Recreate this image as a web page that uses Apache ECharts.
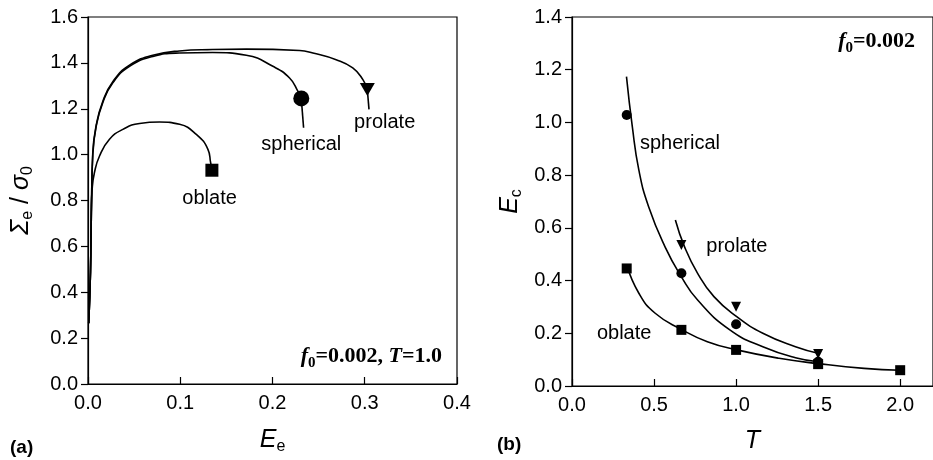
<!DOCTYPE html>
<html>
<head>
<meta charset="utf-8">
<script src="https://cdn.jsdelivr.net/npm/echarts@6/dist/echarts.min.js"></script>
<style>
html,body{margin:0;padding:0;background:#fff;}
#chart{width:933px;height:460px;}
</style>
</head>
<body>
<div id="chart"></div>
<script>
// ---------- Panel (a): Σe/σ0 vs Ee ----------
const aXTicks = [0.0, 0.1, 0.2, 0.3, 0.4];
const aYTicks = [0.0, 0.2, 0.4, 0.6, 0.8, 1.0, 1.2, 1.4, 1.6];
const aSphericalCurve = [[0.0008,0.265],[0.0027,0.489],[0.0038,0.778],[0.0052,1.0],[0.0089,1.124],[0.016,1.226],[0.0269,1.313],[0.045,1.385],[0.0703,1.428],[0.099,1.443],[0.135,1.445],[0.1716,1.433],[0.2004,1.385],[0.2185,1.334],[0.2276,1.276],[0.2312,1.245]];
const aSphericalDrop = [[0.2312,1.245],[0.2337,1.117]];
const aProlateCurve = [[0.0008,0.265],[0.0027,0.489],[0.0038,0.778],[0.0052,1.01],[0.0089,1.128],[0.016,1.232],[0.0269,1.318],[0.045,1.39],[0.0703,1.433],[0.099,1.452],[0.135,1.458],[0.1716,1.46],[0.2294,1.454],[0.2438,1.443],[0.269,1.414],[0.287,1.378],[0.298,1.327],[0.3028,1.284]];
const aProlateDrop = [[0.3028,1.284],[0.3046,1.197]];
const aOblateCurve = [[0.0008,0.265],[0.0027,0.489],[0.0035,0.75],[0.0045,0.85],[0.007,0.922],[0.0125,0.994],[0.0233,1.067],[0.0378,1.110],[0.0559,1.136],[0.0776,1.142],[0.0993,1.132],[0.1174,1.088],[0.130,1.023],[0.1329,0.966],[0.1343,0.934]];
const aSphericalEnd = [[0.2312,1.245]];
const aProlateEnd = [[0.3028,1.284]];
const aOblateEnd = [[0.1343,0.932]];
const aLabels = [
  {name:'spherical', value:[0.2312,1.045]},
  {name:'prolate', value:[0.3216,1.142]},
  {name:'oblate', value:[0.1318,0.81]}
];

// ---------- Panel (b): Ec vs T ----------
const bXTicks = [0.0, 0.5, 1.0, 1.5, 2.0];
const bYTicks = [0.0, 0.2, 0.4, 0.6, 0.8, 1.0, 1.2, 1.4];
const bSphericalT = [1/3, 2/3, 1.0, 1.5];
const bSphericalEc = [1.028, 0.428, 0.234, 0.092];
const bProlateT = [2/3, 1.0, 1.5];
const bProlateEc = [0.535, 0.301, 0.121];
const bOblateT = [1/3, 2/3, 1.0, 1.5, 2.0];
const bOblateEc = [0.446, 0.213, 0.137, 0.083, 0.06];
const bSphericalFit = [[0.332,1.174],[0.3676,0.984],[0.4075,0.819],[0.467,0.680],[0.567,0.528],[0.666,0.415],[0.7655,0.326],[0.964,0.212],[1.163,0.149],[1.362,0.107],[1.5,0.092]];
const bProlateFit = [[0.630,0.630],[0.686,0.528],[0.7655,0.4275],[0.865,0.339],[1.004,0.263],[1.163,0.200],[1.362,0.149],[1.5,0.124]];
const bOblateFit = [[0.333,0.46],[0.4075,0.352],[0.507,0.276],[0.666,0.215],[0.825,0.168],[1.004,0.137],[1.262,0.105],[1.5,0.085],[1.78,0.067],[2.0,0.06]];
const bLabels = [
  {name:'spherical', value:[0.658,0.921]},
  {name:'prolate', value:[1.0045,0.528]},
  {name:'oblate', value:[0.318,0.20]}
];

const SANS = 'Liberation Sans, Arial, sans-serif';
const SERIF = 'Liberation Serif, Times New Roman, serif';

const pairs = (xs, ys) => xs.map((x, i) => [x, ys[i]]);

const nameRich = {
  i: {fontFamily: SANS, fontStyle: 'italic', fontSize: 25, lineHeight: 30, color: '#000'},
  n: {fontFamily: SANS, fontSize: 25, lineHeight: 30, color: '#000'},
  s: {fontFamily: SANS, fontSize: 16, lineHeight: 16, verticalAlign: 'bottom', color: '#000'}
};
const annRich = {
  b: {fontFamily: SERIF, fontWeight: 'bold', fontSize: 22, lineHeight: 30, color: '#000'},
  bi: {fontFamily: SERIF, fontWeight: 'bold', fontStyle: 'italic', fontSize: 22, lineHeight: 30, color: '#000'},
  bs: {fontFamily: SERIF, fontWeight: 'bold', fontSize: 15, lineHeight: 15, verticalAlign: 'bottom', color: '#000'}
};

function valueAxis(gridIndex, ticks, isX, extra) {
  const interval = ticks[1] - ticks[0];
  return Object.assign({
    type: 'value',
    gridIndex: gridIndex,
    min: ticks[0],
    max: ticks[ticks.length - 1],
    interval: interval,
    splitLine: {show: false},
    axisLine: {show: true, onZero: false, lineStyle: {color: '#000', width: 1.2}},
    axisTick: {show: true, inside: isX, length: 7, lineStyle: {color: '#000', width: 1.2}},
    axisLabel: {
      color: '#000', fontFamily: SANS, fontSize: 20, margin: isX ? 9 : 10,
      formatter: v => v.toFixed(1)
    },
    nameLocation: 'middle',
    nameTextStyle: {rich: nameRich}
  }, extra || {});
}

function curve(data, xi, smooth) {
  return {
    type: 'line', xAxisIndex: xi, yAxisIndex: xi, data: data,
    showSymbol: false, smooth: smooth,
    lineStyle: {color: '#000', width: 1.6}, silent: true, z: 2
  };
}
function markers(data, xi, symbol, size, rotate) {
  return {
    type: 'scatter', xAxisIndex: xi, yAxisIndex: xi, data: data,
    symbol: symbol, symbolSize: size, symbolRotate: rotate || 0,
    itemStyle: {color: '#000', opacity: 1}, silent: true, z: 3
  };
}
function labels(data, xi) {
  return {
    type: 'scatter', xAxisIndex: xi, yAxisIndex: xi, data: data,
    symbolSize: 0, silent: true, itemStyle: {opacity: 1},
    label: {show: true, position: 'inside', formatter: '{b}', color: '#000', opacity: 1, fontFamily: SANS, fontSize: 20}
  };
}

const chart = echarts.init(document.getElementById('chart'), null, {renderer: 'canvas'});
chart.setOption({
  backgroundColor: '#fff',
  animation: false,
  grid: [
    {left: 88, top: 17, width: 369, height: 369, show: true, borderColor: '#000', borderWidth: 1.2, backgroundColor: 'transparent'},
    {left: 572, top: 17, width: 369, height: 369, show: true, borderColor: '#000', borderWidth: 1.2, backgroundColor: 'transparent'}
  ],
  xAxis: [
    valueAxis(0, aXTicks, true, {name: '{i|E}{s|e}', nameGap: 41}),
    valueAxis(1, bXTicks, true, {max: 2.2, name: '{i|T}', nameGap: 40, axisLabel: {color: '#000', fontFamily: SANS, fontSize: 20, margin: 9, showMaxLabel: false, formatter: v => (v > 2.05 ? '' : v.toFixed(1))}})
  ],
  yAxis: [
    valueAxis(0, aYTicks, false, {name: '{i|Σ}{s|e}{n| / }{i|σ}{s|0}', nameRotate: 90, nameGap: 52}),
    valueAxis(1, bYTicks, false, {name: '{i|E}{s|c}', nameRotate: 90, nameGap: 47})
  ],
  series: [
    curve(aSphericalCurve, 0, 0.5),
    curve(aSphericalDrop, 0, false),
    curve(aProlateCurve, 0, 0.5),
    curve(aProlateDrop, 0, false),
    curve(aOblateCurve, 0, 0.5),
    markers(aSphericalEnd, 0, 'circle', 16),
    markers(aProlateEnd, 0, 'triangle', [15, 13], 180),
    markers(aOblateEnd, 0, 'rect', 13),
    labels(aLabels, 0),
    curve(bSphericalFit, 1, 0.5),
    curve(bProlateFit, 1, 0.5),
    curve(bOblateFit, 1, 0.5),
    markers(pairs(bSphericalT, bSphericalEc), 1, 'circle', 10),
    markers(pairs(bProlateT, bProlateEc), 1, 'triangle', [10, 10], 180),
    markers(pairs(bOblateT, bOblateEc), 1, 'rect', 10),
    labels(bLabels, 1)
  ],
  graphic: [
    {type: 'text', x: 442, y: 356, style: {text: '{bi|f}{bs|0}{b|=0.002, }{bi|T}{b|=1.0}', rich: annRich, align: 'right', verticalAlign: 'middle'}},
    {type: 'text', x: 915, y: 41, style: {text: '{bi|f}{bs|0}{b|=0.002}', rich: annRich, align: 'right', verticalAlign: 'middle'}},
    {type: 'text', x: 10, y: 448, style: {text: '(a)', fontFamily: SANS, fontWeight: 'bold', fontSize: 19, fill: '#000', verticalAlign: 'middle'}},
    {type: 'text', x: 497, y: 445, style: {text: '(b)', fontFamily: SANS, fontWeight: 'bold', fontSize: 19, fill: '#000', verticalAlign: 'middle'}}
  ]
});
</script>
</body>
</html>
